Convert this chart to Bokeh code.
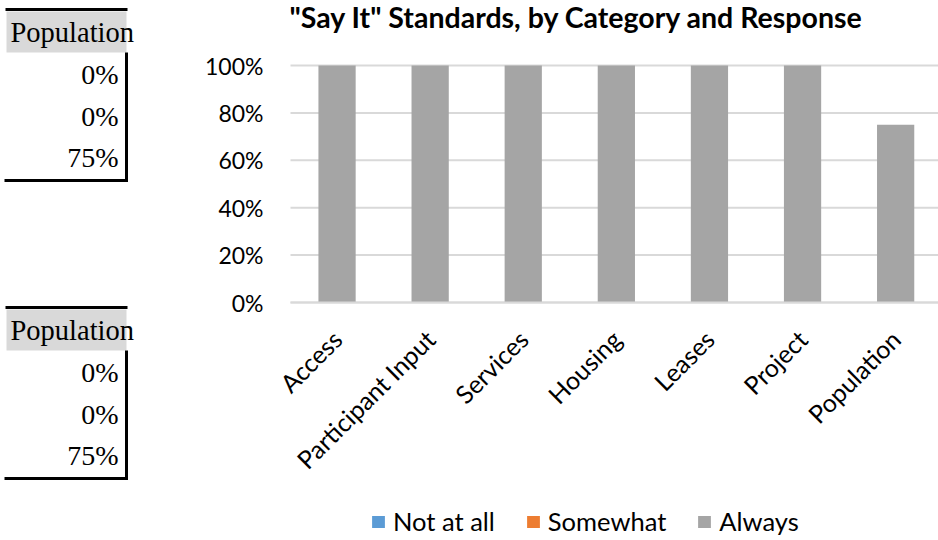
import math
from bokeh.plotting import figure
from bokeh.models import (Range1d, FixedTicker, NumeralTickFormatter, Legend, LegendItem,
                          ColumnDataSource)
from bokeh.embed import file_html
from bokeh.resources import INLINE
from bokeh.core.properties import value

# ---------------- data ----------------
categories = ["Access", "Participant Input", "Services", "Housing", "Leases", "Project", "Population"]
not_at_all = [0.0, 0.0, 0.0, 0.0, 0.0, 0.0, 0.0]
somewhat = [0.0, 0.0, 0.0, 0.0, 0.0, 0.0, 0.0]
always = [1.0, 1.0, 1.0, 1.0, 1.0, 1.0, 0.75]
series_names = ["Not at all", "Somewhat", "Always"]
y_ticks = [0.0, 0.2, 0.4, 0.6, 0.8, 1.0]
chart_title = '"Say It" Standards, by Category and Response'

table_header = "Population"
table_values = ["0%", "0%", "75%"]

# ---------------- styles / layout ----------------
SANS = "Lato"
SERIF = "Liberation Serif"
colors = ["#5b9bd5", "#ed7d31", "#a5a5a5"]
grid_color = "#d9d9d9"

W, H = 938, 540
PAGE = 0
n = len(categories)
cat_px = 93.1                       # pixels per category
unit_px = 237.0                     # pixels per 100 %
plot_l, plot_r, base_y = 290, 938, 302   # page pixels of chart area

x_end = -0.5 + (plot_r - plot_l) / cat_px
p = figure(width=W, height=H, output_backend="svg", toolbar_location=None, title=None,
           x_range=Range1d(-0.5 - (plot_l - PAGE) / cat_px, -0.5 + (PAGE + W - plot_l) / cat_px),
           y_range=Range1d(-(PAGE + H - base_y) / unit_px, (base_y - PAGE) / unit_px),
           min_border_left=0, min_border_right=0, min_border_top=0, min_border_bottom=0,
           outline_line_color=None)
p.extra_x_ranges = {"page": Range1d(PAGE, PAGE + W)}
p.extra_y_ranges = {"page": Range1d(PAGE + H, PAGE)}
pg = dict(x_range_name="page", y_range_name="page")

# gridlines
p.segment(x0=[-0.5] * len(y_ticks), x1=[x_end] * len(y_ticks), y0=y_ticks, y1=y_ticks,
          line_color=grid_color, line_width=2)

# bars
src = ColumnDataSource(dict(x=list(range(n)), a=not_at_all, b=somewhat, c=always))
renderers = p.vbar_stack(["a", "b", "c"], x="x", width=0.4, source=src,
                         fill_color=colors, line_color=None)

# axes drawn at fixed locations inside the canvas
p.grid.visible = False
p.xaxis.fixed_location = 0
p.xaxis.bounds = (-0.5, x_end)
p.xaxis.ticker = FixedTicker(ticks=list(range(n)))
p.xaxis.major_label_overrides = {i: c for i, c in enumerate(categories)}
p.xaxis.major_label_orientation = math.pi / 4
p.xaxis.axis_line_color = grid_color
p.xaxis.axis_line_width = 2
p.xaxis.major_tick_line_color = None
p.xaxis.minor_tick_line_color = None
p.xaxis.major_label_text_font = SANS
p.xaxis.major_label_text_font_size = "25px"
p.xaxis.major_label_text_color = "black"
p.xaxis.major_label_standoff = 26

p.yaxis.fixed_location = -0.5
p.yaxis.bounds = (0, 1)
p.yaxis.ticker = FixedTicker(ticks=y_ticks)
p.yaxis.formatter = NumeralTickFormatter(format="0%")
p.yaxis.axis_line_color = None
p.yaxis.major_tick_line_color = None
p.yaxis.minor_tick_line_color = None
p.yaxis.major_label_text_font = SANS
p.yaxis.major_label_text_font_size = "23px"
p.yaxis.major_label_text_color = "black"
p.yaxis.major_label_standoff = 21

# title
p.text(x=[289], y=[16], text=[chart_title], text_font=value(SANS), text_font_style="bold",
       text_font_size="28.5px", text_baseline="middle", text_align="left", text_color="black", **pg)

# legend
legend = Legend(items=[LegendItem(label=nm, renderers=[r]) for nm, r in zip(series_names, renderers)],
                orientation="horizontal", location=(370, 4),
                glyph_width=16, glyph_height=15, label_standoff=7, spacing=30,
                label_text_font=SANS, label_text_font_size="25.5px", label_text_color="black",
                border_line_color=None, background_fill_alpha=0, padding=0, margin=0)
p.add_layout(legend, "center")

# ---------------- spreadsheet cells on the left ----------------
block_tops = [9, 307]
row_h = 41.5
for top in block_tops:
    p.quad(left=[6], right=[126], top=[top + 2], bottom=[top + 43],
           fill_color="#d9d9d9", line_color=None, **pg)
    p.segment(x0=[5], y0=[top], x1=[127], y1=[top], line_color="black", line_width=3, **pg)
    p.segment(x0=[126], y0=[top + 43], x1=[126], y1=[top + 171], line_color="black", line_width=3, **pg)
    p.segment(x0=[4], y0=[top + 171], x1=[127.5], y1=[top + 171], line_color="black", line_width=3, **pg)
    p.text(x=[10], y=[top + 23], text=[table_header], text_font=value(SERIF),
           text_font_size="28.5px", text_baseline="middle", text_align="left", text_color="black", **pg)
    tsrc = ColumnDataSource(dict(x=[118] * len(table_values),
                                 y=[top + 65 + i * row_h for i in range(len(table_values))],
                                 t=table_values))
    p.text(x="x", y="y", text="t", source=tsrc, text_font=value(SERIF),
           text_font_size="28px", text_baseline="middle", text_align="right", text_color="black", **pg)

open("out.html", "w").write(file_html(p, INLINE))
